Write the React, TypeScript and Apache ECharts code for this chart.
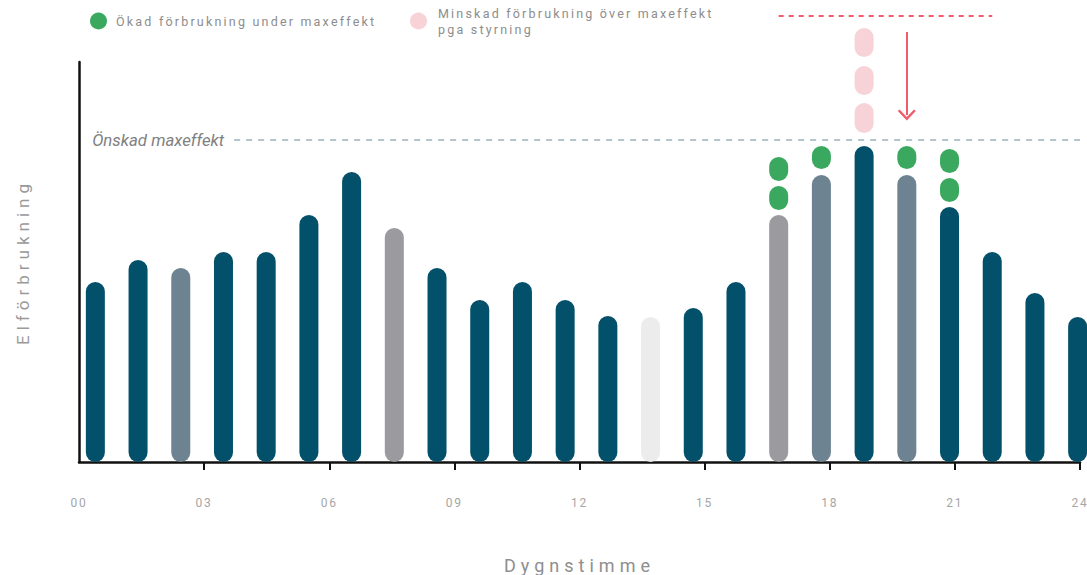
import { useEffect, useRef } from 'react';
import * as echarts from 'echarts';

// ---- data ----
const hours = ['00', '01', '02', '03', '04', '05', '06', '07', '08', '09', '10', '11', '12', '13', '14', '15', '16', '17', '18', '19', '20', '21', '22', '23'];
const consumption = [45, 50.5, 48.5, 52.5, 52.5, 61.75, 72.5, 58.5, 48.5, 40.5, 45, 40.5, 36.5, 36.25, 38.5, 45, 61.75, 71.75, 79, 71.75, 63.75, 52.5, 42.25, 36.25];
const barKind = ['dark', 'dark', 'slate', 'dark', 'dark', 'dark', 'dark', 'gray', 'dark', 'dark', 'dark', 'dark', 'dark', 'light', 'dark', 'dark', 'gray', 'slate', 'dark', 'slate', 'dark', 'dark', 'dark', 'dark'];
// [hour index, low, high]
const increasedBlocks = [[16, 63, 69], [16, 70.25, 76.25], [17, 73.25, 79], [19, 73.25, 79], [20, 65, 71], [20, 72.25, 78.25]];
const reducedBlocks = [[18, 82.25, 89.75], [18, 91.75, 99], [18, 101.25, 108.5]];
const desiredMax = 80.5;
const originalPeak = 111.5;
const peakSpan = ['16', '21'];
const shiftHour = '19';
const shiftFrom = 107.5;
const shiftTo = 86.75;
const hourTicks = [0, 3, 6, 9, 12, 15, 18, 21, 24];

const LEGEND_UP = 'Ökad förbrukning under maxeffekt';
const LEGEND_DOWN = 'Minskad förbrukning över maxeffekt pga styrning';

// ---- styles ----
const KIND_COLOR: Record<string, string> = {
  dark: '#03506a',
  slate: '#6d8391',
  gray: '#9b9a9e',
  light: '#ececec',
};
const GREEN = '#3aa95f';
const PINK = '#f7d3d8';
const RED = '#ef5d6b';
const FONT = 'Roboto';

const css = `
.chart text { letter-spacing: 0; }
.chart text[style*="12.5px"] { letter-spacing: 2.2px; }
.chart text[style*="12px"] { letter-spacing: 1.8px; }
.chart text[style*="17px"], .chart text[style*="18px"] { letter-spacing: 5px; }
`;

function pillRenderer(color: string) {
  return (params: any, api: any) => {
    const top = api.coord([api.value(0), api.value(2)]);
    const bottom = api.coord([api.value(0), api.value(1)]);
    const w = 19;
    return {
      type: 'rect',
      shape: { x: top[0] - w / 2, y: top[1], width: w, height: bottom[1] - top[1], r: 9.5 },
      style: { fill: color },
    };
  };
}

export default function App() {
  const ref = useRef<HTMLDivElement>(null);
  useEffect(() => {
    const chart = echarts.init(ref.current!, null, { renderer: 'svg' });
    const option: any = {
      animation: false,
      backgroundColor: '#ffffff',
      legend: [
        {
          data: [LEGEND_UP],
          left: 90,
          top: 12.5,
          padding: 0,
          icon: 'circle',
          itemWidth: 17,
          itemHeight: 17,
          selectedMode: false,
          textStyle: { color: '#8d8d8d', fontSize: 12.5, fontFamily: FONT, lineHeight: 16, padding: [0, 0, 0, 4] },
        },
        {
          data: [LEGEND_DOWN],
          left: 410,
          top: -3,
          padding: 0,
          icon: 'circle',
          itemWidth: 17,
          itemHeight: 17,
          selectedMode: false,
          formatter: (name: string) => name.replace(' pga', '\npga'),
          textStyle: { color: '#8d8d8d', fontSize: 12.5, fontFamily: FONT, lineHeight: 16, padding: [16, 0, 0, 6] },
        },
      ],
      grid: [
        // bars: 4 px per unit, value 0 at y = 462
        { left: 74, top: 2, width: 1025, height: 460, outerBoundsMode: 'none', containLabel: false },
        // axes frame: same vertical scale, 0..100
        { left: 79, top: 62, width: 1001, height: 400, outerBoundsMode: 'none', containLabel: false },
      ],
      xAxis: [
        { type: 'category', gridIndex: 0, data: hours, show: false },
        {
          type: 'value',
          gridIndex: 1,
          min: 0,
          max: 24,
          interval: 3,
          name: 'Dygnstimme',
          nameLocation: 'middle',
          nameGap: 94,
          nameTextStyle: { color: '#8e8e8e', fontSize: 18, fontFamily: FONT },
          axisLine: { show: true, lineStyle: { color: '#111', width: 2.5 } },
          axisTick: { show: true, length: 8, lineStyle: { color: '#111', width: 2 }, customValues: hourTicks.filter((v) => v > 0) },
          axisLabel: {
            color: '#a6a6a6',
            fontSize: 12,
            fontFamily: FONT,
            margin: 35,
            formatter: (v: number) => (v < 10 ? '0' + v : String(v)),
          },
          splitLine: { show: false },
        },
      ],
      yAxis: [
        { type: 'value', gridIndex: 0, min: 0, max: 115, show: false },
        {
          type: 'value',
          gridIndex: 1,
          min: 0,
          max: 100,
          name: 'Elförbrukning',
          nameLocation: 'middle',
          nameGap: 48,
          nameRotate: 90,
          nameTextStyle: { color: '#9a9a9a', fontSize: 17, fontFamily: FONT },
          axisLine: { show: true, lineStyle: { color: '#111', width: 2.5 } },
          axisTick: { show: false },
          axisLabel: { show: false },
          splitLine: { show: false },
        },
      ],
      series: [
        {
          type: 'bar',
          name: 'Elförbrukning',
          xAxisIndex: 0,
          yAxisIndex: 0,
          barWidth: 19,
          clip: false,
          silent: true,
          data: consumption.map((v, i) => ({
            value: v,
            itemStyle: { color: KIND_COLOR[barKind[i]], borderRadius: 9.5 },
          })),
          markLine: {
            silent: true,
            symbol: ['none', 'none'],
            label: { show: false },
            data: [
              [
                { coord: [peakSpan[0], originalPeak], lineStyle: { color: RED, width: 2, type: [5, 5] } },
                { coord: [peakSpan[1], originalPeak] },
              ],
              [
                { coord: [shiftHour, shiftFrom], lineStyle: { color: RED, width: 2, type: 'solid' } },
                {
                  coord: [shiftHour, shiftTo],
                  symbol: 'path://M0,10 L9,0 L18,10 L16.2,11.6 L9,3.6 L1.8,11.6 Z',
                  symbolSize: [18, 11],
                },
              ],
            ],
          },
        },
        {
          type: 'custom',
          name: LEGEND_UP,
          xAxisIndex: 0,
          yAxisIndex: 0,
          clip: false,
          silent: true,
          itemStyle: { color: GREEN },
          renderItem: pillRenderer(GREEN),
          data: increasedBlocks,
        },
        {
          type: 'custom',
          name: LEGEND_DOWN,
          xAxisIndex: 0,
          yAxisIndex: 0,
          clip: false,
          silent: true,
          itemStyle: { color: PINK },
          renderItem: pillRenderer(PINK),
          data: reducedBlocks,
        },
        {
          type: 'line',
          name: 'maxeffekt',
          xAxisIndex: 1,
          yAxisIndex: 1,
          data: [],
          clip: false,
          silent: true,
          markLine: {
            silent: true,
            symbol: ['none', 'none'],
            lineStyle: { color: '#b3c4ca', width: 2, type: [6, 6] },
            label: {
              show: true,
              position: 'start',
              distance: 10,
              formatter: 'Önskad maxeffekt',
              color: '#808080',
              fontStyle: 'italic',
              fontSize: 16.8,
              fontFamily: FONT,
            },
            data: [[{ coord: [3.72, desiredMax] }, { coord: [24, desiredMax] }]],
          },
        },
      ],
    };
    chart.setOption(option);
    return () => chart.dispose();
  }, []);
  return (
    <>
      <style>{css}</style>
      <div
        ref={ref}
        className="chart"
        style={{ position: 'fixed', left: 0, top: 0, width: 1110, height: 575, background: '#fff' }}
      />
    </>
  );
}
